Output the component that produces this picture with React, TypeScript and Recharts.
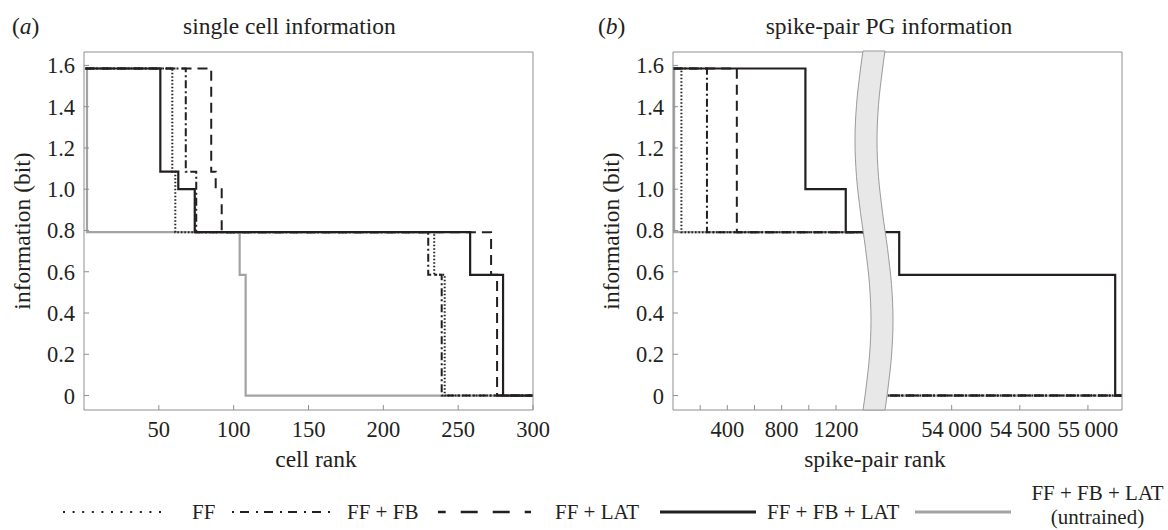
import React from "react";
import { LineChart, Line, XAxis, YAxis } from "recharts";

// (a) single cell information — x: cell rank, y: information (bit)
const A_FF_RANK = [1, 59, 61, 234, 241, 300];
const A_FF_INFO = [1.585, 1.085, 0.792, 0.585, 0, 0];
const A_FB_RANK = [1, 68, 75, 230, 239, 300];
const A_FB_INFO = [1.585, 1.085, 0.792, 0.585, 0, 0];
const A_LAT_RANK = [1, 85, 88, 92, 272, 276, 300];
const A_LAT_INFO = [1.585, 1.085, 1.0, 0.792, 0.585, 0, 0];
const A_ALL_RANK = [1, 51, 63, 74, 258, 280, 300];
const A_ALL_INFO = [1.585, 1.085, 1.0, 0.792, 0.585, 0, 0];
const A_UNTR_RANK = [1, 2, 104, 108, 300];
const A_UNTR_INFO = [1.585, 0.792, 0.585, 0, 0];

// (b) spike-pair PG information — broken x axis, low part
const B_LO_FF_RANK = [1, 62, 1480];
const B_LO_FF_INFO = [1.585, 0.792, 0.792];
const B_LO_FB_RANK = [1, 250, 1480];
const B_LO_FB_INFO = [1.585, 0.792, 0.792];
const B_LO_LAT_RANK = [1, 470, 1480];
const B_LO_LAT_INFO = [1.585, 0.792, 0.792];
const B_LO_ALL_RANK = [1, 975, 1272, 1480];
const B_LO_ALL_INFO = [1.585, 1.0, 0.792, 0.792];
const B_LO_UNTR_RANK = [1, 8, 1480];
const B_LO_UNTR_INFO = [1.585, 0.792, 0.792];

// (b) high part, after the break
const B_HI_FF_RANK = [53430, 55250];
const B_HI_FF_INFO = [0, 0];
const B_HI_FB_RANK = [53430, 55250];
const B_HI_FB_INFO = [0, 0];
const B_HI_LAT_RANK = [53430, 55250];
const B_HI_LAT_INFO = [0, 0];
const B_HI_ALL_RANK = [53430, 53615, 55200, 55250];
const B_HI_ALL_INFO = [0.792, 0.585, 0, 0];
const B_HI_UNTR_RANK = [53430, 55250];
const B_HI_UNTR_INFO = [0, 0];

const INFO_TICKS = [0, 0.2, 0.4, 0.6, 0.8, 1.0, 1.2, 1.4, 1.6];
const A_RANK_TICKS = [50, 100, 150, 200, 250, 300];
const B_LO_TICKS = [200, 400, 600, 800, 1000, 1200];
const B_LO_LABELLED = [400, 800, 1200];
const B_HI_TICKS = [54000, 54500, 55000];

const Y_DOMAIN: [number, number] = [-0.07, 1.665];
const A_X_DOMAIN: [number, number] = [0, 300];
const B_LO_DOMAIN: [number, number] = [0, 1480];
const B_HI_DOMAIN: [number, number] = [53430, 55250];

const INK = "#231f20";
const AXIS = "#8f8f8f";
const GREY = "#a3a3a3";
const FONT = "'Liberation Serif', 'Times New Roman', serif";

const STYLES = {
  untr: { stroke: GREY, width: 2.2, dash: undefined as string | undefined },
  ff: { stroke: INK, width: 2, dash: "1.5 2" },
  fb: { stroke: INK, width: 2, dash: "8 3 2 3" },
  lat: { stroke: INK, width: 2, dash: "10 6" },
  all: { stroke: INK, width: 2.2, dash: undefined as string | undefined },
};

const zip = (xs: number[], ys: number[]) => xs.map((x, i) => ({ x, y: ys[i] }));

const tickStyle = { fill: INK, fontSize: 22.5, fontFamily: FONT };
const fmtInfo = (v: number) => (v === 0 ? "0" : v.toFixed(1));
const fmtBig = (v: number) => {
  const s = String(v);
  return s.slice(0, s.length - 3) + "\u2009" + s.slice(-3);
};

function series(key: keyof typeof STYLES, xs: number[], ys: number[]) {
  const s = STYLES[key];
  return (
    <Line
      key={key}
      xAxisId="b"
      yAxisId="l"
      data={zip(xs, ys)}
      dataKey="y"
      type="stepAfter"
      stroke={s.stroke}
      strokeWidth={s.width}
      strokeDasharray={s.dash}
      dot={false}
      activeDot={false}
      isAnimationActive={false}
    />
  );
}

function PanelA() {
  return (
    <LineChart width={560} height={470} margin={{ top: 51, right: 26, bottom: 0, left: 24 }}>
      <XAxis xAxisId="b" type="number" dataKey="x" domain={A_X_DOMAIN} ticks={A_RANK_TICKS}
        interval={0} tickSize={-5} tickMargin={16} height={60} stroke={AXIS} tick={tickStyle} />
      <XAxis xAxisId="t" orientation="top" type="number" dataKey="x" domain={A_X_DOMAIN}
        ticks={A_RANK_TICKS} interval={0} tickSize={-5} tick={false} height={1} stroke={AXIS} />
      <YAxis yAxisId="l" type="number" domain={Y_DOMAIN} ticks={INFO_TICKS} interval={0}
        tickSize={-5} tickMargin={14} width={60} stroke={AXIS} tick={tickStyle} tickFormatter={fmtInfo} />
      <YAxis yAxisId="r" orientation="right" type="number" domain={Y_DOMAIN} ticks={INFO_TICKS}
        interval={0} tickSize={-5} tick={false} width={1} stroke={AXIS} />
      {series("untr", A_UNTR_RANK, A_UNTR_INFO)}
      {series("ff", A_FF_RANK, A_FF_INFO)}
      {series("fb", A_FB_RANK, A_FB_INFO)}
      {series("lat", A_LAT_RANK, A_LAT_INFO)}
      {series("all", A_ALL_RANK, A_ALL_INFO)}
    </LineChart>
  );
}

function PanelBLow() {
  return (
    <LineChart width={274} height={470} margin={{ top: 51, right: 0, bottom: 0, left: 0 }}>
      <XAxis xAxisId="b" type="number" dataKey="x" domain={B_LO_DOMAIN} ticks={B_LO_TICKS}
        interval={0} tickSize={-5} tickMargin={16} height={60} stroke={AXIS} tick={tickStyle}
        tickFormatter={(v: number) => (B_LO_LABELLED.includes(v) ? String(v) : "")} />
      <XAxis xAxisId="t" orientation="top" type="number" dataKey="x" domain={B_LO_DOMAIN}
        ticks={[]} tickLine={false} tick={false} height={1} stroke={AXIS} />
      <YAxis yAxisId="l" type="number" domain={Y_DOMAIN} ticks={INFO_TICKS} interval={0}
        tickSize={-5} tickMargin={14} width={73} stroke={AXIS} tick={tickStyle} tickFormatter={fmtInfo} />
      {series("untr", B_LO_UNTR_RANK, B_LO_UNTR_INFO)}
      {series("ff", B_LO_FF_RANK, B_LO_FF_INFO)}
      {series("fb", B_LO_FB_RANK, B_LO_FB_INFO)}
      {series("lat", B_LO_LAT_RANK, B_LO_LAT_INFO)}
      {series("all", B_LO_ALL_RANK, B_LO_ALL_INFO)}
    </LineChart>
  );
}

function PanelBHigh() {
  return (
    <LineChart width={294} height={470} margin={{ top: 51, right: 45, bottom: 0, left: 0 }}>
      <XAxis xAxisId="b" type="number" dataKey="x" domain={B_HI_DOMAIN} ticks={B_HI_TICKS}
        interval={0} tickSize={-5} tickMargin={16} height={60} stroke={AXIS} tick={tickStyle}
        tickFormatter={fmtBig} />
      <XAxis xAxisId="t" orientation="top" type="number" dataKey="x" domain={B_HI_DOMAIN}
        ticks={[]} tickLine={false} tick={false} height={1} stroke={AXIS} />
      <YAxis yAxisId="l" type="number" domain={Y_DOMAIN} hide />
      <YAxis yAxisId="r" orientation="right" type="number" domain={Y_DOMAIN} ticks={INFO_TICKS}
        interval={0} tickSize={-5} tick={false} width={1} stroke={AXIS} />
      {series("untr", B_HI_UNTR_RANK, B_HI_UNTR_INFO)}
      {series("ff", B_HI_FF_RANK, B_HI_FF_INFO)}
      {series("fb", B_HI_FB_RANK, B_HI_FB_INFO)}
      {series("lat", B_HI_LAT_RANK, B_HI_LAT_INFO)}
      {series("all", B_HI_ALL_RANK, B_HI_ALL_INFO)}
    </LineChart>
  );
}

// wavy band marking the axis break
function breakPath() {
  const top = 51, bottom = 410, x0 = 863, w = 22, amp = 8;
  const left: string[] = [];
  const right: string[] = [];
  for (let i = 0; i <= 40; i++) {
    const y = top + ((bottom - top) * i) / 40;
    const off = -amp * Math.sin((2 * Math.PI * (y - top)) / (bottom - top));
    left.push(`${(x0 + off).toFixed(1)},${y.toFixed(1)}`);
    right.unshift(`${(x0 + off + w).toFixed(1)},${y.toFixed(1)}`);
  }
  return "M" + left.join(" L") + " L" + right.join(" L") + " Z";
}

function Overlay() {
  const t = { fontFamily: FONT, fill: INK };
  const lg = { ...t, fontSize: 21 };
  return (
    <svg width={1168} height={530} style={{ position: "absolute", left: 0, top: 0, pointerEvents: "none" }}>
      <path d={breakPath()} fill="#e8e8e8" stroke="#9a9a9a" strokeWidth={1} />

      <text x={12} y={33.5} fontSize={23.5} {...t}>(<tspan fontStyle="italic">a</tspan>)</text>
      <text x={289.5} y={33.5} fontSize={23.5} textAnchor="middle" {...t}>single cell information</text>
      <text x={598} y={33.5} fontSize={23.5} {...t}>(<tspan fontStyle="italic">b</tspan>)</text>
      <text x={889} y={33.5} fontSize={23.5} textAnchor="middle" {...t}>spike-pair PG information</text>

      <text x={316} y={466.5} fontSize={23.5} textAnchor="middle" {...t}>cell rank</text>
      <text x={875} y={466.5} fontSize={23.5} textAnchor="middle" {...t}>spike-pair rank</text>

      <text transform="translate(22,231) rotate(-90)" fontSize={23.5} textAnchor="middle"
        dominantBaseline="central" {...t}>information (bit)</text>
      <text transform="translate(611,231) rotate(-90)" fontSize={23.5} textAnchor="middle"
        dominantBaseline="central" {...t}>information (bit)</text>

      <line x1={63} x2={168} y1={512} y2={512} stroke={INK} strokeWidth={2.2} strokeDasharray="2 7.6" />
      <text x={192} y={519} {...lg}>FF</text>
      <line x1={232} x2={330} y1={512} y2={512} stroke={INK} strokeWidth={2.2} strokeDasharray="2 6 9 7" />
      <text x={347} y={519} {...lg}>FF + FB</text>
      <line x1={438} x2={531} y1={512} y2={512} stroke={INK} strokeWidth={2.5} strokeDasharray="17 15" strokeDashoffset={9.3} />
      <text x={555} y={519} {...lg}>FF + LAT</text>
      <line x1={660} x2={756} y1={512} y2={512} stroke={INK} strokeWidth={2.8} />
      <text x={767} y={519} {...lg}>FF + FB + LAT</text>
      <line x1={915} x2={1011} y1={512} y2={512} stroke={GREY} strokeWidth={3} />
      <text x={1097.5} y={500} textAnchor="middle" {...lg}>FF + FB + LAT</text>
      <text x={1097.5} y={524} textAnchor="middle" {...lg}>(untrained)</text>
    </svg>
  );
}

export default function App() {
  return (
    <div style={{ position: "absolute", left: 0, top: 0, width: 1168, height: 530, background: "#fff" }}>
      <div style={{ position: "absolute", left: 0, top: 0 }}>
        <PanelA />
      </div>
      <div style={{ position: "absolute", left: 600, top: 0 }}>
        <PanelBLow />
      </div>
      <div style={{ position: "absolute", left: 874, top: 0 }}>
        <PanelBHigh />
      </div>
      <Overlay />
    </div>
  );
}
